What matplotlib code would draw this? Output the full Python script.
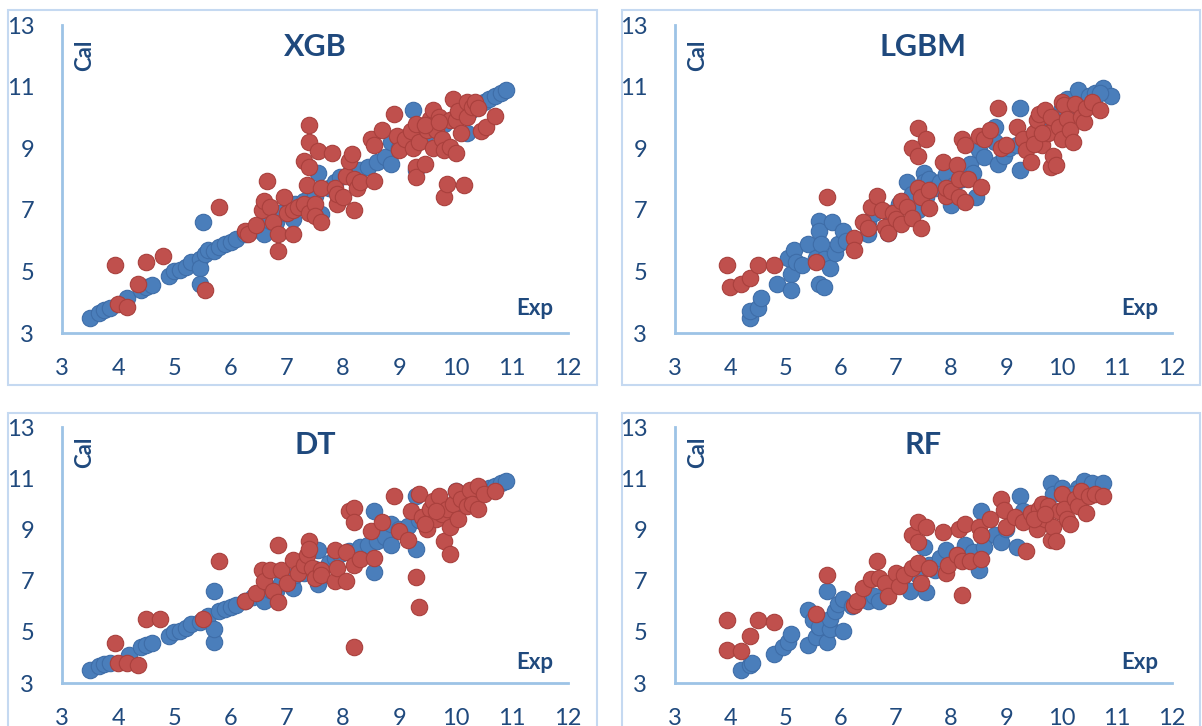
import matplotlib
matplotlib.use("Agg")
import matplotlib.pyplot as plt
from matplotlib.patches import Rectangle

plt.rcParams["font.family"] = ["Lato", "DejaVu Sans"]

# ---- XGB ----
xgb_train_exp = [3.5, 3.65, 3.75, 3.85, 4.15, 4.4, 4.5, 4.6, 4.9, 5.0, 5.1, 5.2, 5.3, 5.45, 5.45, 5.5, 5.45,
                 5.55, 5.6, 5.7, 5.8, 5.9, 6.0, 6.1, 6.25, 6.4, 6.55, 6.6, 6.7, 6.8, 6.9, 7.05, 7.1, 7.15,
                 7.3, 7.5, 7.6, 7.55, 7.75, 7.85, 7.95, 8.1, 8.3, 8.45, 8.6, 8.75, 8.85, 8.85, 9.0, 9.15,
                 9.3, 9.25, 9.35, 9.5, 9.65, 9.8, 9.95, 10.1, 10.2, 10.25, 10.4, 10.5, 10.6, 10.7, 10.8, 10.9]
xgb_train_cal = [3.5, 3.65, 3.75, 3.8, 4.15, 4.4, 4.5, 4.55, 4.85, 5.0, 5.05, 5.15, 5.3, 5.4, 5.1, 6.6, 4.6,
                 5.55, 5.7, 5.65, 5.8, 5.9, 5.95, 6.05, 6.2, 6.35, 6.5, 6.2, 6.65, 6.6, 6.9, 7.0, 6.7, 7.2,
                 7.3, 7.45, 6.85, 8.2, 7.7, 7.9, 8.05, 8.15, 8.3, 8.4, 8.55, 8.7, 8.5, 9.2, 9.0, 9.15,
                 8.3, 10.25, 9.35, 9.5, 9.65, 9.8, 9.95, 10.1, 9.5, 10.2, 10.35, 10.5, 10.6, 10.7, 10.8, 10.9]
xgb_test_exp = [3.95, 4.0, 4.15, 4.35, 4.5, 4.8, 5.55, 5.8, 6.25, 6.3, 6.45, 6.55, 6.6, 6.65, 6.7, 6.75,
                6.85, 6.85, 6.95, 7.0, 7.1, 7.1, 7.2, 7.3, 7.3, 7.35, 7.4, 7.4, 7.4, 7.4, 7.5, 7.5, 7.55,
                7.6, 7.6, 7.8, 7.85, 7.9, 7.9, 8.0, 8.05, 8.1, 8.15, 8.2, 8.2, 8.25, 8.3, 8.5, 8.55, 8.55,
                8.7, 8.9, 8.95, 9.0, 9.1, 9.2, 9.25, 9.3, 9.3, 9.3, 9.35, 9.45, 9.5, 9.55, 9.6, 9.6, 9.65,
                9.7, 9.75, 9.8, 9.8, 9.85, 9.9, 9.9, 9.95, 10.0, 10.0, 10.05, 10.1, 10.15, 10.2, 10.2,
                10.3, 10.35, 10.4, 10.45, 10.55, 10.7, 9.45, 9.7]
xgb_test_cal = [5.2, 3.95, 3.85, 4.6, 5.3, 5.5, 4.4, 7.1, 6.3, 6.2, 6.5, 7.0, 7.3, 7.95, 7.1, 6.6,
                6.2, 5.65, 7.4, 6.9, 7.0, 6.2, 7.1, 7.2, 8.6, 7.8, 8.4, 9.75, 9.2, 6.9, 7.2, 6.8, 8.9,
                6.6, 7.7, 8.85, 7.7, 7.2, 7.5, 7.4, 8.1, 8.6, 8.8, 7.0, 8.0, 7.7, 7.9, 9.3, 9.1, 7.95,
                9.6, 10.1, 9.4, 8.95, 9.3, 9.55, 9.0, 8.4, 8.05, 9.8, 9.2, 8.5, 9.6, 9.95, 10.25, 9.0, 9.6,
                10.0, 9.3, 7.4, 8.95, 7.85, 9.05, 9.9, 10.6, 9.9, 8.85, 10.2, 9.5, 7.8, 10.5, 10.0,
                10.35, 10.5, 10.3, 9.55, 9.7, 10.05, 9.75, 9.85]

# ---- LGBM ----
lgbm_train_exp = [4.35, 4.35, 4.5, 4.55, 4.85, 5.1, 5.1, 5.05, 5.15, 5.2, 5.3, 5.4, 5.55, 5.6, 5.6, 5.6,
                  5.65, 5.7, 5.7, 5.8, 5.85, 5.9, 5.95, 6.05, 6.1, 6.5, 6.5, 6.6, 6.85, 6.9, 7.05, 7.2,
                  7.3, 7.4, 7.5, 7.5, 7.55, 7.6, 7.7, 7.8, 7.9, 8.0, 8.05, 8.2, 8.35, 8.4, 8.45, 8.5,
                  8.6, 8.8, 8.8, 8.85, 8.95, 9.05, 9.2, 9.25, 9.25, 9.4, 9.6, 9.8, 10.0, 10.1, 10.3,
                  10.4, 10.5, 10.6, 10.75, 10.9, 10.7, 9.9, 10.2]
lgbm_train_cal = [3.5, 3.7, 3.8, 4.15, 4.6, 4.9, 4.4, 5.45, 5.7, 5.3, 5.2, 5.9, 5.45, 6.65, 6.3, 4.6,
                  5.9, 4.5, 5.4, 5.1, 6.6, 5.6, 5.9, 6.3, 6.0, 6.2, 6.6, 6.9, 6.25, 6.9, 7.2, 7.9,
                  7.5, 7.0, 8.2, 7.9, 7.4, 8.0, 7.7, 7.9, 8.15, 7.15, 7.8, 8.0, 8.5, 8.2, 7.4, 8.95,
                  8.7, 9.7, 9.2, 8.5, 8.75, 9.0, 9.1, 8.3, 10.3, 9.3, 9.8, 9.6, 10.3, 10.6, 10.9,
                  10.4, 10.7, 10.8, 10.95, 10.7, 10.8, 10.0, 10.2]
lgbm_test_exp = [3.95, 4.0, 4.2, 4.35, 4.5, 4.8, 5.55, 5.75, 6.25, 6.25, 6.4, 6.5, 6.55, 6.65, 6.75,
                 6.8, 6.85, 6.95, 7.0, 7.1, 7.1, 7.2, 7.3, 7.3, 7.4, 7.4, 7.4, 7.45, 7.45, 7.55, 7.6,
                 7.6, 7.85, 7.9, 7.9, 8.0, 8.1, 8.15, 8.15, 8.2, 8.25, 8.25, 8.3, 8.5, 8.55, 8.6, 8.7,
                 8.85, 8.9, 9.0, 9.2, 9.3, 9.35, 9.45, 9.5, 9.55, 9.6, 9.65, 9.7, 9.75, 9.8, 9.8, 9.85,
                 9.9, 9.95, 10.0, 10.0, 10.05, 10.1, 10.15, 10.2, 10.25, 10.35, 10.4, 10.45, 10.55,
                 10.7, 9.5, 9.65]
lgbm_test_cal = [5.2, 4.5, 4.6, 4.8, 5.2, 5.2, 5.3, 7.4, 6.1, 5.7, 6.6, 6.4, 7.1, 7.45, 7.0,
                 6.45, 6.25, 6.9, 6.7, 6.55, 7.3, 7.1, 6.75, 9.0, 9.65, 8.75, 7.7, 7.4, 6.4, 9.3, 7.05,
                 7.65, 8.55, 7.45, 7.7, 7.6, 8.45, 8.0, 7.4, 9.3, 9.1, 7.25, 8.0, 9.4, 7.75, 9.3, 9.6,
                 10.3, 9.0, 9.1, 9.7, 9.3, 8.95, 8.55, 9.5, 9.9, 10.1, 9.1, 10.25, 9.5, 10.0, 8.4, 8.75,
                 8.45, 9.7, 9.3, 10.5, 10.4, 9.95, 9.6, 9.2, 10.45, 10.0, 9.85, 10.3, 10.5,
                 10.25, 9.15, 9.5]

# ---- DT ----
dt_train_exp = [3.5, 3.65, 3.75, 3.85, 4.2, 4.4, 4.5, 4.6, 4.9, 5.0, 5.1, 5.2, 5.3, 5.45, 5.6, 5.7,
                5.7, 5.7, 5.8, 5.9, 6.0, 6.1, 6.25, 6.4, 6.55, 6.6, 6.7, 6.8, 6.9, 7.05, 7.1, 7.15,
                7.3, 7.5, 7.55, 7.55, 7.75, 7.85, 7.95, 8.1, 8.3, 8.45, 8.55, 8.55, 8.6, 8.75, 8.85,
                8.85, 9.0, 9.15, 9.3, 9.3, 9.35, 9.5, 9.65, 9.8, 9.95, 10.0, 10.1, 10.25, 10.4, 10.5,
                10.6, 10.7, 10.8, 10.9]
dt_train_cal = [3.5, 3.65, 3.75, 3.8, 4.1, 4.4, 4.5, 4.55, 4.85, 5.0, 5.05, 5.15, 5.3, 5.4, 5.6, 6.6,
                4.6, 5.1, 5.8, 5.9, 5.95, 6.05, 6.2, 6.35, 6.5, 6.2, 6.65, 6.6, 6.9, 7.0, 6.7, 7.2,
                7.3, 7.45, 8.2, 6.85, 7.7, 7.9, 8.05, 8.15, 8.3, 8.4, 9.7, 7.35, 8.55, 8.7, 8.4,
                9.2, 9.0, 9.15, 10.3, 8.25, 9.35, 9.5, 9.65, 9.8, 9.95, 10.5, 10.1, 10.2, 10.35, 10.5,
                10.6, 10.7, 10.8, 10.9]
dt_test_exp = [3.95, 4.0, 4.15, 4.35, 4.5, 4.75, 5.5, 5.8, 6.25, 6.45, 6.55, 6.6, 6.7, 6.75, 6.85,
               6.85, 6.9, 7.0, 7.1, 7.2, 7.3, 7.35, 7.4, 7.4, 7.45, 7.5, 7.6, 7.6, 7.85, 7.85, 7.9,
               8.05, 8.05, 8.1, 8.2, 8.2, 8.2, 8.2, 8.3, 8.5, 8.55, 8.7, 8.9, 9.0, 9.15, 9.2, 9.3,
               9.35, 9.35, 9.4, 9.5, 9.55, 9.6, 9.65, 9.7, 9.75, 9.8, 9.85, 9.9, 9.9, 9.95, 10.0,
               10.05, 10.1, 10.2, 10.25, 10.3, 10.4, 10.4, 10.5, 10.7, 9.45, 9.65]
dt_test_cal = [4.55, 3.8, 3.8, 3.7, 5.5, 5.5, 5.5, 7.75, 6.2, 6.5, 7.4, 7.0, 7.4, 6.6, 6.15,
               8.4, 7.4, 6.9, 7.8, 7.3, 7.6, 8.0, 8.55, 8.25, 7.5, 7.1, 7.4, 7.2, 8.2, 7.0, 7.5,
               7.0, 8.1, 9.7, 9.85, 9.3, 7.6, 4.4, 7.85, 8.95, 7.9, 9.3, 10.3, 8.95, 8.6, 9.7, 7.15,
               5.95, 10.4, 9.5, 9.0, 9.8, 10.1, 9.4, 10.3, 9.6, 8.55, 9.8, 8.05, 9.1, 10.0, 10.5,
               9.4, 10.2, 9.9, 10.55, 10.0, 10.7, 9.8, 10.4, 10.5, 9.2, 9.7]

# ---- RF ----
rf_train_exp = [4.2, 4.35, 4.4, 4.8, 4.95, 5.05, 5.1, 5.4, 5.4, 5.5, 5.55, 5.6, 5.75, 5.75, 5.8, 5.8,
                5.9, 5.95, 6.05, 6.05, 6.2, 6.5, 6.6, 6.7, 6.9, 7.1, 7.25, 7.4, 7.5, 7.55, 7.6, 7.7,
                7.8, 7.9, 8.1, 8.25, 8.4, 8.5, 8.55, 8.6, 8.8, 8.9, 9.0, 9.2, 9.25, 9.3, 9.5, 9.7,
                9.8, 9.85, 10.0, 10.1, 10.3, 10.4, 10.55, 10.75, 10.2]
rf_train_cal = [3.5, 3.7, 3.8, 4.15, 4.4, 4.6, 4.9, 5.85, 4.5, 5.45, 4.8, 5.2, 6.6, 4.6, 5.1, 5.5,
                5.8, 6.1, 6.3, 5.05, 6.0, 6.2, 6.4, 6.2, 6.9, 7.0, 6.6, 7.2, 8.3, 6.55, 7.6, 7.4,
                7.9, 8.2, 8.0, 8.4, 8.1, 7.4, 9.7, 8.3, 8.8, 8.5, 9.0, 8.3, 10.3, 9.7, 9.4, 9.6,
                10.8, 10.4, 10.6, 10.2, 10.6, 10.9, 10.8, 10.8, 10.4]
rf_test_exp = [3.95, 3.95, 4.2, 4.35, 4.5, 4.8, 5.55, 5.75, 6.25, 6.3, 6.4, 6.55, 6.65, 6.7, 6.8, 6.85,
               7.0, 7.05, 7.15, 7.3, 7.3, 7.4, 7.4, 7.4, 7.45, 7.55, 7.6, 7.85, 7.9, 7.95, 8.1, 8.15,
               8.2, 8.2, 8.25, 8.35, 8.5, 8.55, 8.55, 8.7, 8.9, 8.95, 9.0, 9.15, 9.3, 9.35, 9.45, 9.55,
               9.6, 9.65, 9.7, 9.75, 9.8, 9.85, 9.9, 9.95, 10.0, 10.05, 10.1, 10.15, 10.25, 10.3,
               10.35, 10.45, 10.5, 10.6, 10.75, 9.5, 9.7]
rf_test_cal = [5.45, 4.3, 4.25, 4.85, 5.45, 5.4, 5.7, 7.2, 6.05, 6.2, 6.7, 7.05, 7.75, 7.1, 6.9, 6.4,
               7.3, 6.8, 7.2, 7.5, 8.8, 9.3, 8.5, 7.7, 6.9, 9.1, 7.5, 8.9, 7.3, 7.6, 8.0, 9.0,
               6.45, 7.75, 9.2, 7.75, 9.1, 7.85, 8.8, 9.4, 10.2, 9.75, 9.1, 9.5, 9.3, 8.15, 9.65, 9.0,
               9.8, 10.0, 9.4, 9.9, 8.6, 9.1, 8.55, 9.7, 10.4, 9.8, 9.4, 9.2, 10.2, 9.9,
               10.5, 9.65, 10.3, 10.4, 10.3, 9.4, 9.6]

text_color = "#1F497D"
axis_color = "#9DC3E6"
box_color = "#C5D9F1"
blue = "#4A7EBB"
red = "#C0504D"

fig = plt.figure(figsize=(12.02, 7.26), dpi=100)
W, H = 1202, 726

# panel frames (pixels: left, top, right, bottom)
frames = [(8, 10, 597, 385), (622, 10, 1200, 385), (8, 413, 597, 740), (622, 413, 1200, 740)]
for l, t, r, b in frames:
    fig.patches.append(Rectangle((l / W, 1 - b / H), (r - l) / W, (b - t) / H,
                                 transform=fig.transFigure, fill=False,
                                 edgecolor=box_color, linewidth=1.5))

# axes placement (pixels: left, right, y of 13, y of 3)
panels = [
    ("XGB", xgb_train_exp, xgb_train_cal, xgb_test_exp, xgb_test_cal, (62, 568, 25, 333)),
    ("LGBM", lgbm_train_exp, lgbm_train_cal, lgbm_test_exp, lgbm_test_cal, (675, 1172, 25, 333)),
    ("DT", dt_train_exp, dt_train_cal, dt_test_exp, dt_test_cal, (62, 568, 427, 683)),
    ("RF", rf_train_exp, rf_train_cal, rf_test_exp, rf_test_cal, (675, 1172, 427, 683)),
]

for name, tr_x, tr_y, te_x, te_y, (x0, x1, ytop, ybot) in panels:
    ax = fig.add_axes([x0 / W, 1 - ybot / H, (x1 - x0) / W, (ybot - ytop) / H])
    ax.scatter(tr_x, tr_y, s=140, color=blue, edgecolors="#3E6DA8", linewidths=0.8, zorder=3)
    ax.scatter(te_x, te_y, s=140, color=red, edgecolors="#A9403D", linewidths=0.8, zorder=4)
    ax.set_xlim(3, 12)
    ax.set_ylim(3, 13)
    ax.set_xticks(range(3, 13))
    ax.set_yticks(range(3, 14, 2))
    for s in ["top", "right"]:
        ax.spines[s].set_visible(False)
    for s in ["left", "bottom"]:
        ax.spines[s].set_color(axis_color)
        ax.spines[s].set_linewidth(2)
    ax.tick_params(length=0, labelsize=17, labelcolor=text_color)
    ax.tick_params(axis="x", pad=18)
    ax.tick_params(axis="y", pad=20)
    ax.set_facecolor("none")
    ax.text(0.5, 0.93, name, transform=ax.transAxes, ha="center", va="center",
            fontsize=22, fontweight="bold", color=text_color)
    ax.text(0.045, 0.9, "Cal", transform=ax.transAxes, ha="center", va="center", rotation=90,
            fontsize=16, fontweight="bold", color=text_color)
    ax.text(0.935, 0.08, "Exp", transform=ax.transAxes, ha="center", va="center",
            fontsize=16, fontweight="bold", color=text_color)

fig.savefig("out.png", dpi=100)
